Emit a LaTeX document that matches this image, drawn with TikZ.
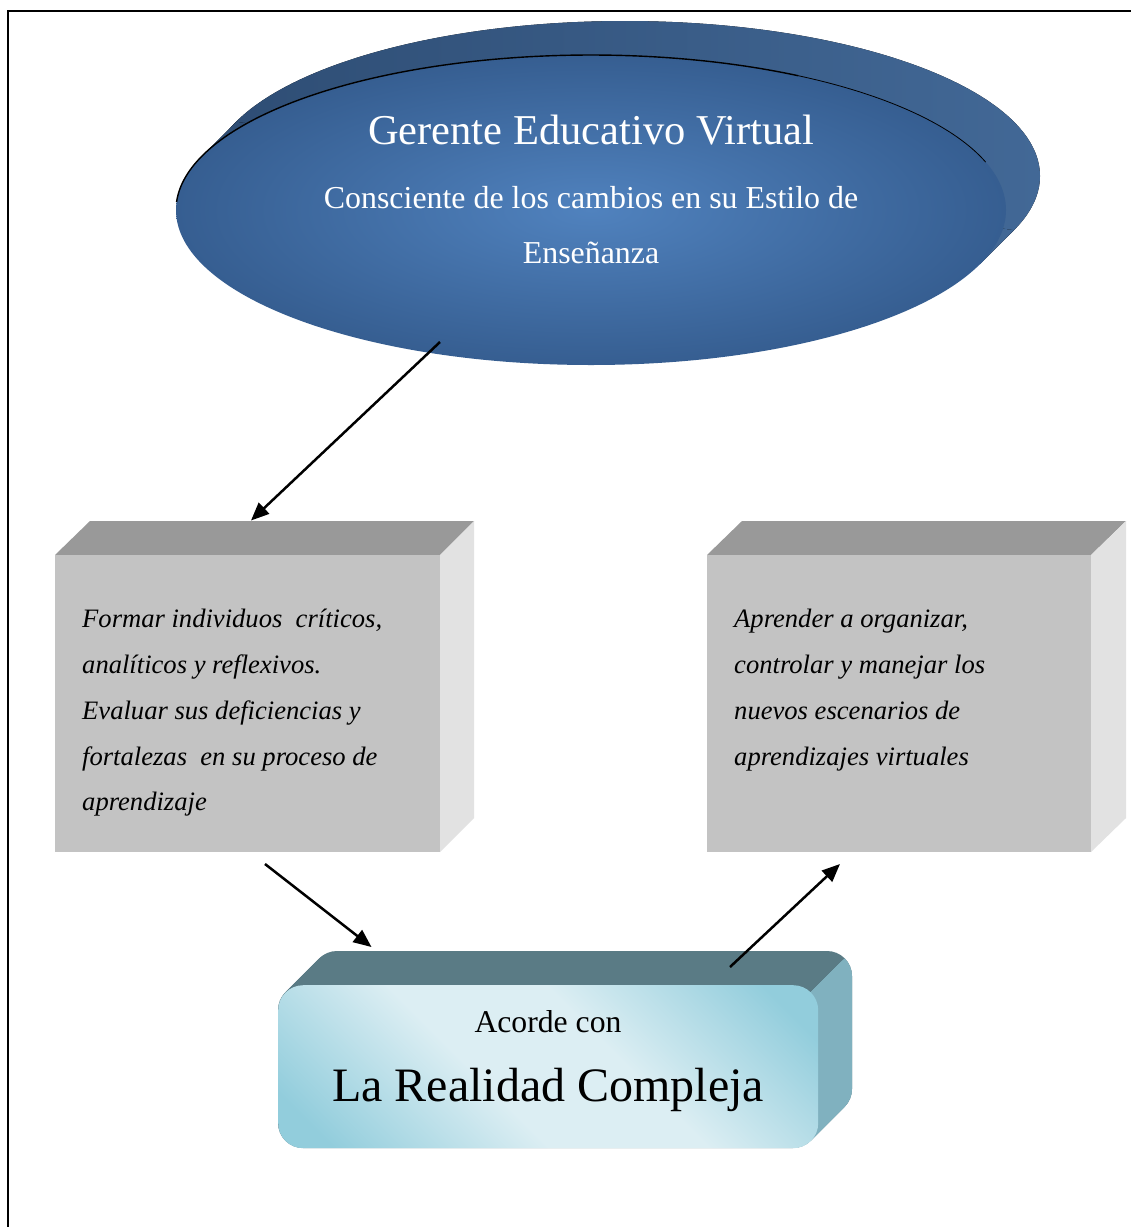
\documentclass[tikz,border=0pt]{standalone}
\usepackage{fontspec}
\setmainfont{Liberation Serif}
\usetikzlibrary{arrows.meta,shapes.geometric}
\definecolor{topgray}{RGB}{153,153,153}
\definecolor{frontgray}{RGB}{195,195,195}
\definecolor{sidegray}{RGB}{226,226,226}
\definecolor{elin}{RGB}{80,130,190}
\definecolor{elout}{RGB}{54,94,145}
\definecolor{extL}{RGB}{46,77,116}
\definecolor{extR}{RGB}{66,104,150}
\definecolor{tealtop}{RGB}{90,123,133}
\definecolor{tealside}{RGB}{128,177,191}
\definecolor{cyanD}{RGB}{146,205,220}
\definecolor{cyanL}{RGB}{220,238,243}
\pgfdeclarehorizontalshading{glassy}{100bp}{color(0bp)=(cyanD); color(20bp)=(cyanD); color(42bp)=(cyanL); color(58bp)=(cyanL); color(80bp)=(cyanD); color(100bp)=(cyanD)}
\begin{document}
\begin{tikzpicture}[x=1pt,y=-1pt,
  arr/.style={line width=2.5pt,-{Triangle[length=18pt,width=15pt]}},
  eltext/.style={text=white,inner sep=0pt,anchor=base},
  boxtext/.style={inner sep=0pt,anchor=base west,font=\fontsize{26.6}{30}\selectfont\itshape},
  frontface/.style={rectangle,fill=frontgray,inner sep=0pt,anchor=north west,minimum width=385pt,minimum height=297pt},
  topface/.style={fill=topgray},
  sideface/.style={fill=sidegray}]
\useasboundingbox (0,0) rectangle (1131,1227);
\fill[white] (0,0) rectangle (1131,1227);
\draw[line width=2.2pt] (8,1235) -- (8,11) -- (1140,11);

% ---- ellipse (3D) ----
\fill[left color=extL,right color=extR] (625,176) ellipse [x radius=415, y radius=155];
\fill[left color=extL,right color=extR] (202.2,155.8) -- (236.2,121.8) -- (1013.8,230.2) -- (979.8,264.2) -- cycle;
\node[ellipse,minimum width=830pt,minimum height=310pt,inner sep=0pt,inner color=elin,outer color=elout] (ell) at (591,210) {};
\draw[black,line width=1.4pt] plot[domain=60:177,samples=100] ({591+415*cos(\x)},{210-155*sin(\x)});
\draw[black,line width=0.8pt] plot[domain=18:60,samples=60] ({591+415*cos(\x)},{210-155*sin(\x)});
\node[eltext,font=\fontsize{42.5}{50}\selectfont] (t1) at (591,144) {Gerente Educativo Virtual};
\node[eltext,font=\fontsize{31.9}{40}\selectfont] (t2) at (591,208) {Consciente de los cambios en su Estilo de};
\node[eltext,font=\fontsize{31.9}{40}\selectfont] (t3) at (591,263) {Enseñanza};

% ---- left box ----
\fill[topface] (55,555) -- (90,521) -- (474,521) -- (440,555) -- cycle;
\fill[sideface] (440,555) -- (474,521) -- (474,818) -- (440,852) -- cycle;
\node[frontface] (boxL) at (55,555) {};
\node[boxtext] (l1) at (82,627) {Formar individuos \ críticos,};
\node[boxtext] (l2) at (82,673) {analíticos y reflexivos.};
\node[boxtext] (l3) at (82,719) {Evaluar sus deficiencias y};
\node[boxtext] (l4) at (82,765) {fortalezas \ en su proceso de};
\node[boxtext] (l5) at (82,810) {aprendizaje};

% ---- right box ----
\fill[topface] (707,555) -- (742,521) -- (1126,521) -- (1091,555) -- cycle;
\fill[sideface] (1091,555) -- (1126,521) -- (1126,818) -- (1091,852) -- cycle;
\node[frontface,minimum width=384pt] (boxR) at (707,555) {};
\node[boxtext] (r1) at (734,627) {Aprender a organizar,};
\node[boxtext] (r2) at (734,673) {controlar y manejar los};
\node[boxtext] (r3) at (734,719) {nuevos escenarios de};
\node[boxtext] (r4) at (734,765) {aprendizajes virtuales};

% ---- bottom box ----
\foreach \i in {0,1,...,34}
  \fill[tealtop,rounded corners=25pt] ({278+\i},{985-\i}) rectangle ({818+\i},{1148-\i});
\begin{scope}
  \clip (810.7,992.3) -- (862,941) -- (900,941) -- (900,1200) -- (810.7,1200) -- cycle;
  \foreach \i in {0,1,...,34}
    \fill[tealside,rounded corners=25pt] ({278+\i},{985-\i}) rectangle ({818+\i},{1148-\i});
\end{scope}
\node[rectangle,rounded corners=25pt,shading=glassy,shading angle=45,minimum width=540pt,minimum height=163pt,inner sep=0pt,anchor=north west] (bot) at (278,985) {};
\node[inner sep=0pt,anchor=base,font=\fontsize{31.7}{38}\selectfont] (b1) at (548,1032) {Acorde con};
\node[inner sep=0pt,anchor=base,font=\fontsize{48}{56}\selectfont] (b2) at (548,1101) {La Realidad Compleja};

% ---- arrows ----
\coordinate (a1s) at (440,342);
\coordinate (a1e) at (251,520.5);
\coordinate (a2s) at (265,864);
\coordinate (a2e) at (371.5,947);
\coordinate (a3s) at (730,967);
\coordinate (a3e) at (840,864);
\draw[arr] (a1s) -- (a1e);
\draw[arr] (a2s) -- (a2e);
\draw[arr] (a3s) -- (a3e);
\end{tikzpicture}
\end{document}
